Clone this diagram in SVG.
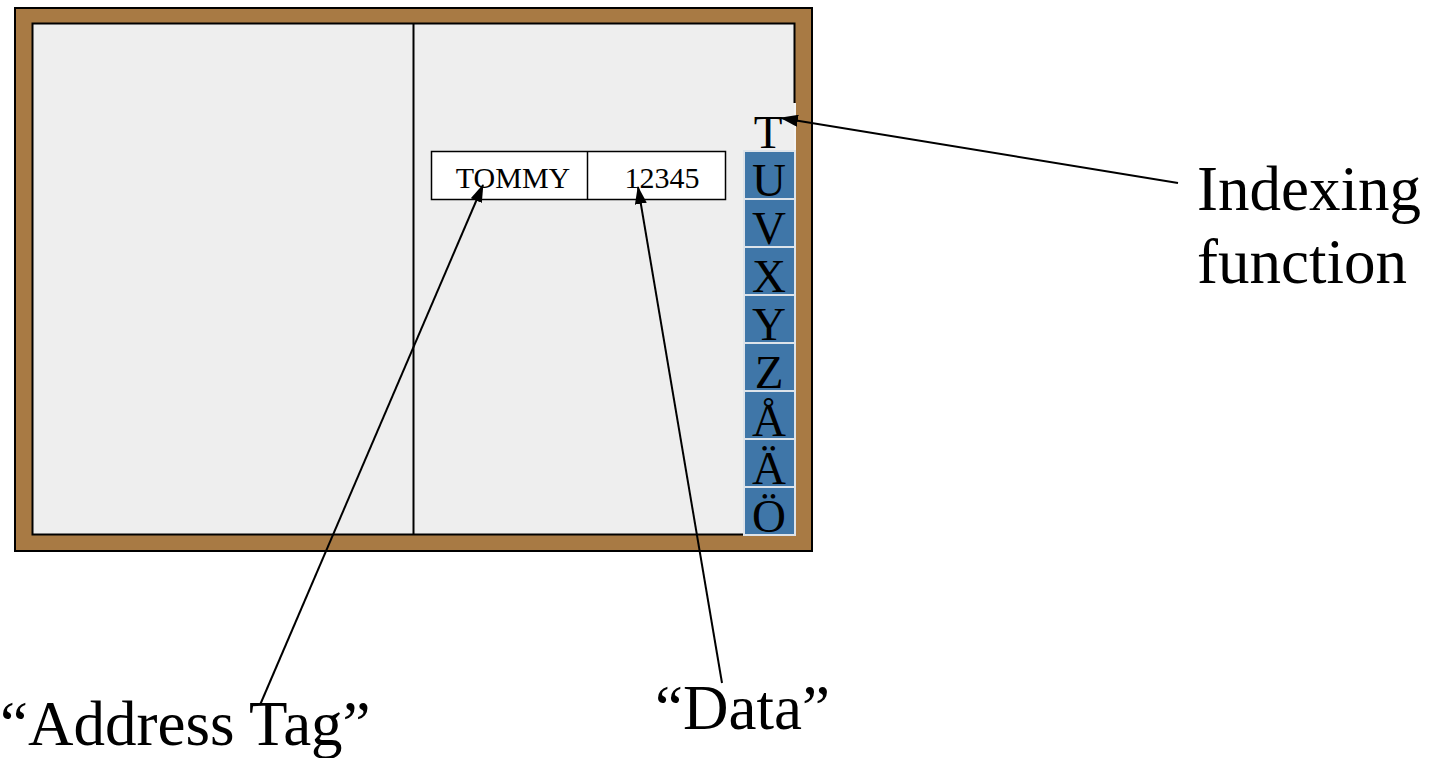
<svg xmlns="http://www.w3.org/2000/svg" width="1441" height="758" viewBox="0 0 1441 758">
  <style>
    .serif { font-family: "Liberation Serif", "Times New Roman", serif; fill: #000; }
    .tab { fill: #3f76a8; stroke: #dde3ea; stroke-width: 2; }
    .tabtxt { font-size: 47px; text-anchor: middle; }
    .label { font-size: 63px; }
    .conn { stroke: #000; stroke-width: 2; fill: none; marker-end: url(#arrow); }
  </style>
  <defs>
    <marker id="arrow" viewBox="0 0 18 12" refX="17" refY="6" markerWidth="18" markerHeight="12" markerUnits="userSpaceOnUse" orient="auto">
      <path d="M0,0 L18,6 L0,12 z" fill="#000"/>
    </marker>
  </defs>
  <rect width="1441" height="758" fill="#fff"/>

  <!-- binder frame -->
  <g id="binder">
    <rect x="15" y="8" width="797" height="543" fill="#a87a44" stroke="#000" stroke-width="2"/>
    <rect x="32.5" y="23.5" width="762" height="511" fill="#eeeeee" stroke="#000" stroke-width="2"/>
    <line x1="413.5" y1="23" x2="413.5" y2="535" stroke="#000" stroke-width="2"/>
  </g>

  <!-- record entry -->
  <g id="record">
    <rect x="431.5" y="151.5" width="294" height="48" fill="#fff" stroke="#000" stroke-width="1.5"/>
    <line x1="587.5" y1="151.5" x2="587.5" y2="199.5" stroke="#000" stroke-width="1.5"/>
    <text class="serif" x="513" y="188" font-size="30" text-anchor="middle">TOMMY</text>
    <text class="serif" x="662" y="188" font-size="30" text-anchor="middle">12345</text>
  </g>

  <!-- index tabs -->
  <g id="tabs">
    <rect x="744" y="103" width="51" height="48" fill="#eeeeee" stroke="none"/>
    <line x1="795" y1="103" x2="795" y2="151" stroke="#f4f4f4" stroke-width="2"/>
    <text class="serif tabtxt" x="768" y="148">T</text>
    <rect class="tab" x="744" y="151" width="51" height="48"/>
    <text class="serif tabtxt" x="769" y="196">U</text>
    <rect class="tab" x="744" y="199" width="51" height="48"/>
    <text class="serif tabtxt" x="769" y="244">V</text>
    <rect class="tab" x="744" y="247" width="51" height="48"/>
    <text class="serif tabtxt" x="769" y="292">X</text>
    <rect class="tab" x="744" y="295" width="51" height="48"/>
    <text class="serif tabtxt" x="769" y="340">Y</text>
    <rect class="tab" x="744" y="343" width="51" height="48"/>
    <text class="serif tabtxt" x="769" y="388">Z</text>
    <rect class="tab" x="744" y="391" width="51" height="48"/>
    <text class="serif tabtxt" x="769" y="436">Å</text>
    <rect class="tab" x="744" y="439" width="51" height="48"/>
    <text class="serif tabtxt" x="769" y="484">Ä</text>
    <rect class="tab" x="744" y="487" width="51" height="48"/>
    <text class="serif tabtxt" x="769" y="532">Ö</text>
  </g>

  <!-- pointers -->
  <g id="connectors">
    <line class="conn" x1="260" y1="705" x2="483" y2="185"/>
    <line class="conn" x1="722" y1="683" x2="638" y2="187"/>
    <line class="conn" x1="1178" y1="183" x2="781" y2="118"/>
  </g>

  <!-- captions -->
  <g id="label-address">
    <text class="serif label" x="0" y="745">“Address Tag”</text>
  </g>
  <g id="label-data">
    <text class="serif label" x="655" y="729">“Data”</text>
  </g>
  <g id="label-indexing">
    <text class="serif label" x="1197" y="210">Indexing</text>
    <text class="serif label" x="1197" y="283">function</text>
  </g>
</svg>
